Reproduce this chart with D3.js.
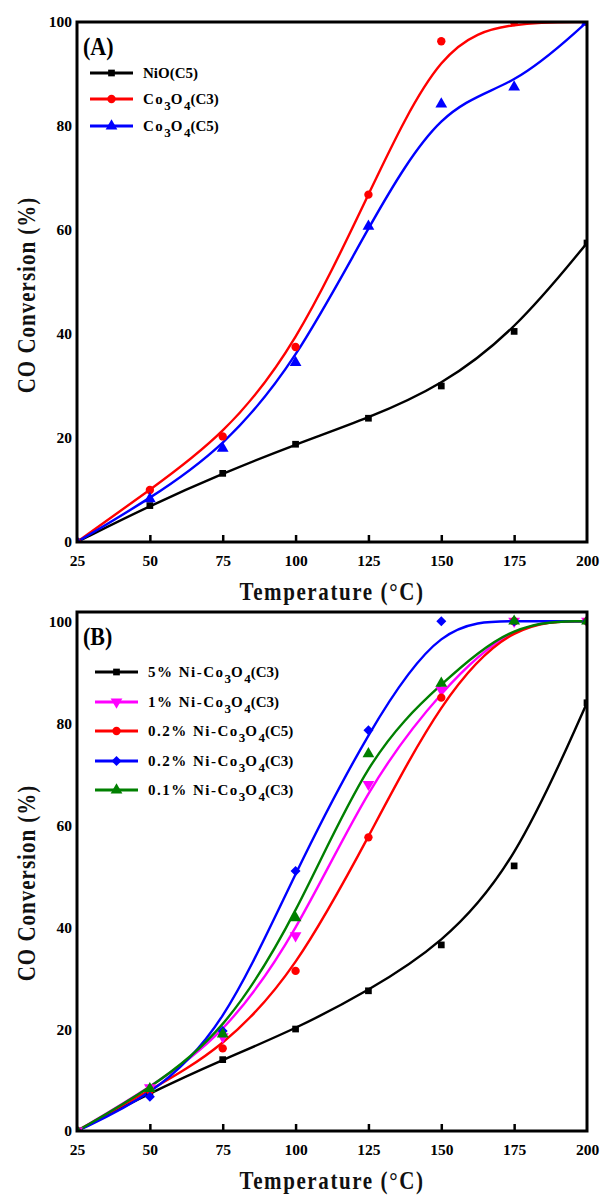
<!DOCTYPE html>
<html><head><meta charset="utf-8">
<script src="https://cdn.jsdelivr.net/npm/d3@7"></script>
<style>body{margin:0;background:#fff}svg{display:block}text{font-family:"Liberation Serif","Times New Roman",serif;font-weight:bold}</style>
</head><body>
<svg id="c" width="600" height="1197"></svg>
<script>
const temps = [25, 50, 75, 100, 125, 150, 175, 200];
const xTicks = [25, 50, 75, 100, 125, 150, 175, 200];
const yTicks = [0, 20, 40, 60, 80, 100];

// Panel A
const nioC5 = [0, 7, 13.2, 18.8, 23.8, 30, 40.5, 57.5];
const co3o4C3 = [0, 10, 20.3, 37.5, 66.8, 96.3, 100, 100];
const co3o4C5 = [0, 8.3, 18, 34.5, 60.7, 84.2, 87.5, 100];

// Panel B
const ni5C3 = [0, 7.5, 14, 20, 27.5, 36.5, 52, 84];
const ni1C3 = [0, 8.5, 18.5, 38.3, 68, 86.5, 100, 100];
const ni02C5 = [0, 8, 16.2, 31.4, 57.6, 85, 100, 100];
const ni02C3 = [0, 6.7, 19.6, 51, 78.6, 100, 100, 100];
const ni01C3 = [0, 8.3, 19, 41.8, 74, 87.8, 100, 100];

const panels = [
  {label: "(A)", top: 22, bottom: 542, ymax: 100, legY: [73, 99, 126], legX: 90, yLabC: 295,
   series: [
     {name: ["NiO(C5)"], v: nioC5, color: "#000", sym: d3.symbolSquare},
     {name: ["Co", "3", "O", "4", "(C3)"], v: co3o4C3, color: "#ff0000", sym: d3.symbolCircle},
     {name: ["Co", "3", "O", "4", "(C5)"], v: co3o4C5, color: "#0000ff", sym: d3.symbolTriangle}
   ]},
  {label: "(B)", top: 612, bottom: 1131, ymax: 101.8, legY: [672, 702, 731, 761, 790], legX: 95, yLabC: 883,
   series: [
     {name: ["5% Ni-Co", "3", "O", "4", "(C3)"], v: ni5C3, color: "#000", sym: d3.symbolSquare},
     {name: ["1% Ni-Co", "3", "O", "4", "(C3)"], v: ni1C3, color: "#ff00ff", sym: "down"},
     {name: ["0.2% Ni-Co", "3", "O", "4", "(C5)"], v: ni02C5, color: "#ff0000", sym: d3.symbolCircle},
     {name: ["0.2% Ni-Co", "3", "O", "4", "(C3)"], v: ni02C3, color: "#0000ff", sym: "diamond"},
     {name: ["0.1% Ni-Co", "3", "O", "4", "(C3)"], v: ni01C3, color: "#008000", sym: d3.symbolTriangle}
   ]}
];

const svg = d3.select("#c");
const L = 77, R = 587;

function marker(g, sym, color, x, y) {
  if (sym === "down") {
    g.append("path").attr("d", d3.symbol(d3.symbolTriangle, 60)()).attr("transform", `translate(${x},${y}) rotate(180)`).attr("fill", color);
  } else if (sym === "diamond") {
    g.append("path").attr("d", d3.symbol(d3.symbolSquare, 50)()).attr("transform", `translate(${x},${y}) rotate(45)`).attr("fill", color);
  } else {
    const size = sym === d3.symbolCircle ? 55 : (sym === d3.symbolSquare ? 45 : 60);
    g.append("path").attr("d", d3.symbol(sym, size)()).attr("transform", `translate(${x},${y})`).attr("fill", color);
  }
}

panels.forEach(p => {
  const x = d3.scaleLinear().domain([25, 200]).range([L, R]);
  const y = d3.scaleLinear().domain([0, p.ymax]).range([p.bottom, p.top]);
  const g = svg.append("g");

  const cid = "clip" + p.label.replace(/\W/g, "");
  svg.append("clipPath").attr("id", cid).append("rect").attr("x", L).attr("y", p.top).attr("width", R - L).attr("height", p.bottom - p.top);

  const plot = g.append("g").attr("clip-path", `url(#${cid})`);
  const line = d3.line().x((d, i) => x(temps[i])).y(d => y(d)).curve(d3.curveBasis);
  p.series.forEach(s => {
    plot.append("path").attr("d", line(s.v)).attr("fill", "none").attr("stroke", s.color).attr("stroke-width", 2.4);
  });
  p.series.forEach(s => {
    s.v.forEach((d, i) => marker(plot, s.sym, s.color, x(temps[i]), y(d)));
  });

  // frame
  g.append("rect").attr("x", L).attr("y", p.top).attr("width", R - L).attr("height", p.bottom - p.top)
    .attr("fill", "none").attr("stroke", "#000").attr("stroke-width", 3);

  // x axis
  const xa = g.append("g").attr("transform", `translate(0,${p.bottom})`)
    .call(d3.axisBottom(x).tickValues(xTicks).tickSize(-7).tickPadding(13).tickFormat(d3.format("d")));
  xa.select(".domain").remove();
  xa.selectAll("line").attr("stroke-width", 2.5).attr("stroke", "#000");
  xa.selectAll("text").attr("font-size", 15.5).attr("fill", "#000").style("font-family", '"Liberation Serif",serif').style("font-weight", "bold");
  xa.selectAll(".tick").filter(d => d === 25 || d === 200).select("line").remove();

  // y axis
  const ya = g.append("g").attr("transform", `translate(${L},0)`)
    .call(d3.axisLeft(y).tickValues(yTicks).tickSize(0).tickPadding(5).tickFormat(d3.format("d")));
  ya.select(".domain").remove();
  ya.selectAll("text").attr("font-size", 15.5).attr("fill", "#000").style("font-family", '"Liberation Serif",serif').style("font-weight", "bold");

  // titles
  g.append("text").attr("transform", `translate(332,${p.bottom + 58}) scale(1,1.2)`).attr("text-anchor", "middle")
    .attr("font-size", 21).attr("letter-spacing", 1.6).attr("fill", "#111").text("Temperature (°C)");
  g.append("text").attr("transform", `translate(35,${p.yLabC}) rotate(-90) scale(1,1.2)`).attr("text-anchor", "middle")
    .attr("font-size", 21).attr("letter-spacing", 1).attr("fill", "#111").text("CO Conversion (%)");

  // panel label
  g.append("text").attr("transform", `translate(83,${p.top + 33}) scale(1,1.15)`).attr("font-size", 22).text(p.label);

  // legend
  p.series.forEach((s, i) => {
    const ly = p.legY[i];
    g.append("line").attr("x1", p.legX).attr("x2", p.legX + 43).attr("y1", ly).attr("y2", ly)
      .attr("stroke", s.color).attr("stroke-width", 2.8);
    marker(g, s.sym, s.color, p.legX + 21.5, ly);
    const t = g.append("text").attr("x", p.legX + 53).attr("y", ly + 5).attr("font-size", 15);
    s.name.forEach((part, k) => {
      const sub = (part === "3" || part === "4");
      const ts = t.append("tspan").text(part);
      if (sub) ts.attr("font-size", 13).attr("dy", 6);
      else if (k > 0 && (s.name[k - 1] === "3" || s.name[k - 1] === "4")) ts.attr("dy", -6);
      if (part.endsWith("Co") || part === "O") ts.attr("letter-spacing", 1.5);
    });
  });
});
</script>
</body></html>
